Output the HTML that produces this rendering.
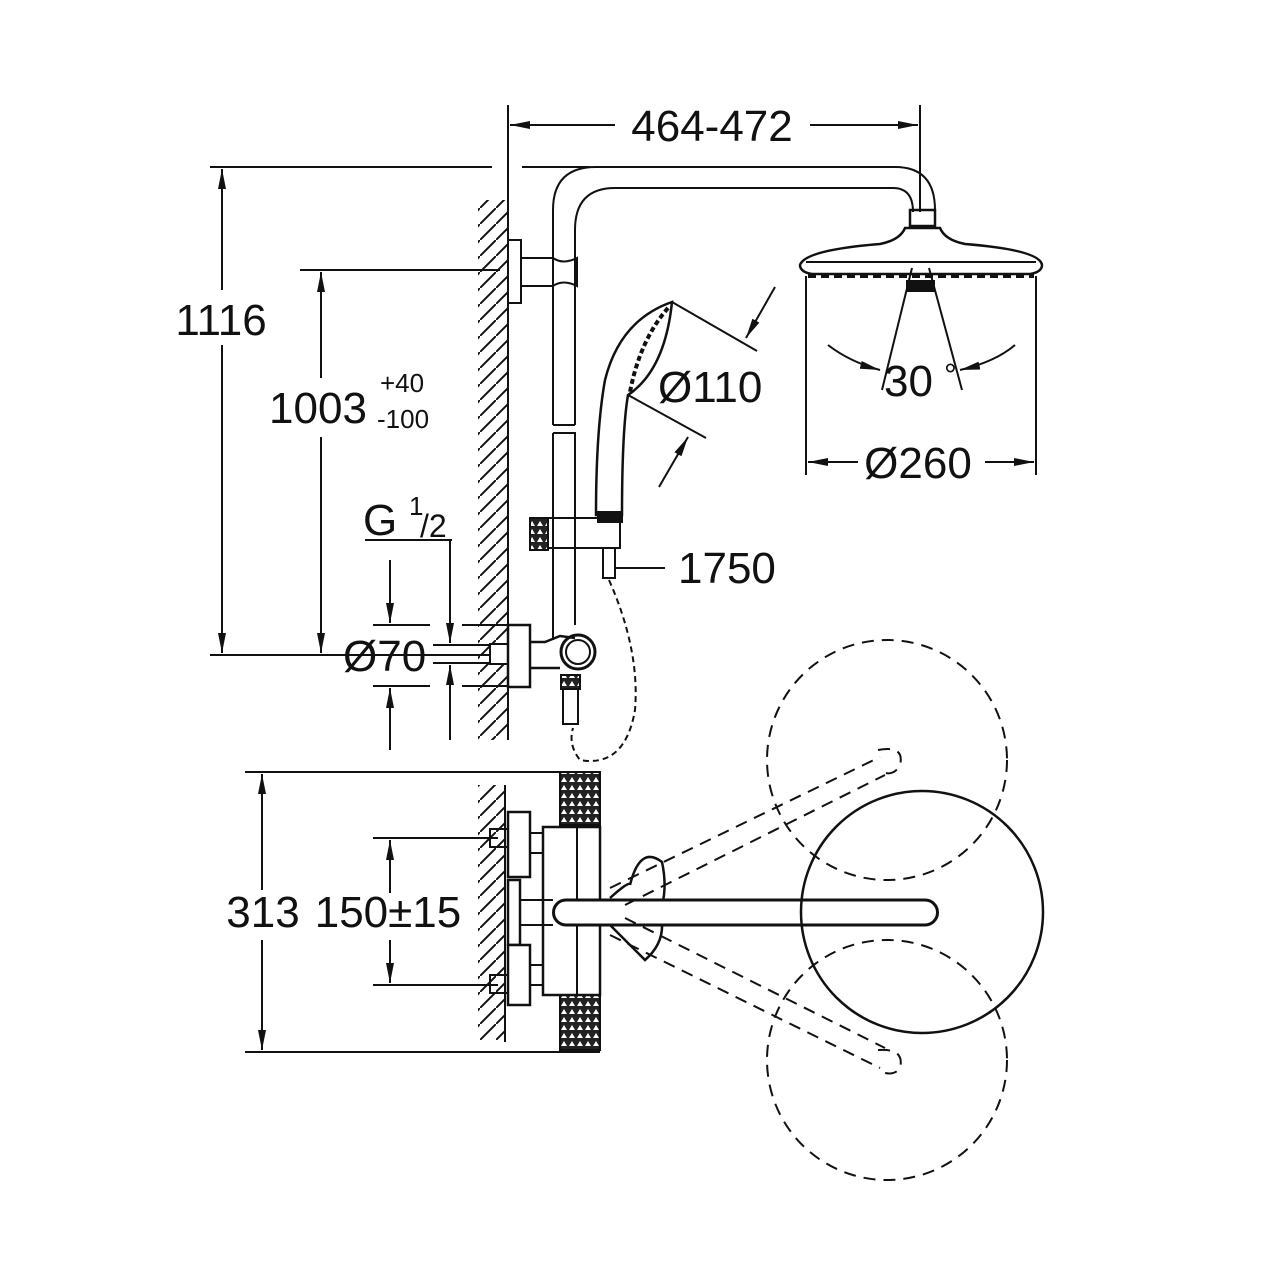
<!DOCTYPE html>
<html><head><meta charset="utf-8"><style>
html,body{margin:0;padding:0;background:#fff}
svg{display:block}
text{font-family:"Liberation Sans",sans-serif;fill:#111}
</style></head><body>
<svg width="1280" height="1280" viewBox="0 0 1280 1280" xmlns="http://www.w3.org/2000/svg">
<defs>
<marker id="a" viewBox="0 0 20 8" refX="20" refY="4" markerWidth="20" markerHeight="8" markerUnits="userSpaceOnUse" orient="auto"><path d="M0,0 L20,4 L0,8 z" fill="#111"/></marker>
<pattern id="h" width="16" height="16" patternUnits="userSpaceOnUse"><path d="M0,16 L16,0" stroke="#111" stroke-width="2"/></pattern>
<pattern id="dots" width="8" height="8" patternUnits="userSpaceOnUse"><rect width="8" height="8" fill="#222"/><path d="M1,6 L4,1 L7,6z" fill="#fff"/></pattern>
</defs>
<g stroke="#111" stroke-width="2" fill="none">
<!-- top dimension -->
<line x1="508" y1="105" x2="508" y2="740"/>
<line x1="920" y1="105" x2="920" y2="212"/>
<line x1="615" y1="125" x2="510" y2="125" marker-end="url(#a)"/>
<line x1="810" y1="125" x2="918" y2="125" marker-end="url(#a)"/>
<!-- 1116 / 1003 -->
<line x1="210" y1="167" x2="492" y2="167"/>
<line x1="522" y1="167" x2="590" y2="167"/>
<line x1="210" y1="655" x2="490" y2="655"/>
<line x1="300" y1="270" x2="500" y2="270"/>
<line x1="222" y1="290" x2="222" y2="169" marker-end="url(#a)"/>
<line x1="222" y1="345" x2="222" y2="653" marker-end="url(#a)"/>
<line x1="321" y1="378" x2="321" y2="272" marker-end="url(#a)"/>
<line x1="321" y1="437" x2="321" y2="653" marker-end="url(#a)"/>
<!-- wall upper -->
<rect x="478" y="200" width="30" height="540" fill="url(#h)" stroke="none"/>
<!-- pipe -->
<path d="M553,425 L553,210 Q553,167 596,167 L895,167 Q935,167 935,210"/>
<path d="M575,425 L575,230 Q575,188 615,188 L893,188 Q913,188 913,212"/>
<rect x="508" y="240" width="13" height="63" fill="#fff"/>
<path d="M521,258 L553,258 Q563,265 577,258 L577,286 Q563,279 553,286 L521,286"/>
<line x1="553" y1="425" x2="575" y2="425"/>
<path d="M553,433 L575,433 L575,625 M553,433 L553,640"/>
<!-- head shower -->
<rect x="910" y="210" width="25" height="16" stroke-width="2.5"/>
<path d="M800,265 Q805,250 880,244 Q900,240 905,228 L940,228 Q945,240 965,244 Q1040,250 1042,265 Q1042,272 1030,274 L812,274 Q800,272 800,265z" stroke-width="2.5"/>
<line x1="806" y1="262" x2="1036" y2="262"/>
<path d="M808,276 L1034,276" stroke-width="4" stroke-dasharray="8 5"/>
<rect x="907" y="281" width="27" height="10" fill="#111"/>
<line x1="806" y1="276" x2="806" y2="475"/>
<line x1="1036" y1="276" x2="1036" y2="475"/>
<line x1="912" y1="268" x2="882" y2="390"/>
<line x1="929" y1="268" x2="962" y2="390"/>
<path d="M828,345 Q850,362 880,370" marker-end="url(#a)"/>
<path d="M1015,345 Q995,362 960,370" marker-end="url(#a)"/>
<line x1="858" y1="462" x2="808" y2="462" marker-end="url(#a)"/>
<line x1="985" y1="462" x2="1034" y2="462" marker-end="url(#a)"/>
<!-- hand shower -->
<path d="M672,302 Q620,320 605,380 Q596,430 596,515 L622,515 Q622,430 628,395 Q665,370 672,302z" stroke-width="2.5"/>
<path d="M668,308 Q640,340 630,392" stroke-width="4" stroke-dasharray="5 3"/>
<line x1="672" y1="302" x2="757" y2="351"/>
<line x1="628" y1="395" x2="706" y2="438"/>
<line x1="775" y1="287" x2="746" y2="338" marker-end="url(#a)"/>
<line x1="659" y1="487" x2="688" y2="437" marker-end="url(#a)"/>
<!-- holder -->
<rect x="530" y="518" width="18" height="32" fill="url(#dots)"/>
<path d="M548,518 L620,518 L620,548 L548,548z"/>
<rect x="598" y="512" width="24" height="10" fill="#111"/>
<rect x="603" y="548" width="12" height="30"/>
<line x1="615" y1="568" x2="665" y2="568"/>
<path d="M609,580 Q640,650 635,710 Q625,768 580,760 Q568,745 573,728" stroke-dasharray="6 4"/>
<!-- G1/2 & Ø70 -->
<line x1="365" y1="540" x2="452" y2="540"/>
<line x1="450" y1="540" x2="450" y2="643" marker-end="url(#a)"/>
<line x1="450" y1="740" x2="450" y2="665" marker-end="url(#a)"/>
<line x1="390" y1="560" x2="390" y2="623" marker-end="url(#a)"/>
<line x1="390" y1="750" x2="390" y2="688" marker-end="url(#a)"/>
<line x1="373" y1="625" x2="430" y2="625"/><line x1="462" y1="625" x2="508" y2="625"/>
<line x1="373" y1="686" x2="430" y2="686"/><line x1="462" y1="686" x2="508" y2="686"/>
<line x1="433" y1="645" x2="495" y2="645"/><line x1="433" y1="663" x2="495" y2="663"/>
<rect x="490" y="644" width="18" height="20" fill="#fff"/>
<rect x="508" y="625" width="22" height="62" fill="#fff" stroke-width="2.5"/>
<path d="M530,642 L545,642 L560,636 L575,638 M530,668 L545,668 L560,668" stroke-width="2.5"/>
<circle cx="578" cy="652" r="17" stroke-width="3"/>
<circle cx="578" cy="652" r="12"/>
<rect x="561" y="675" width="19" height="14" fill="url(#dots)"/>
<rect x="563" y="689" width="15" height="35"/>
<!-- bottom view -->
<line x1="245" y1="772" x2="600" y2="772"/>
<line x1="245" y1="1052" x2="600" y2="1052"/>
<line x1="262" y1="890" x2="262" y2="774" marker-end="url(#a)"/>
<line x1="262" y1="940" x2="262" y2="1050" marker-end="url(#a)"/>
<line x1="373" y1="838" x2="498" y2="838"/>
<line x1="373" y1="985" x2="498" y2="985"/>
<line x1="390" y1="893" x2="390" y2="840" marker-end="url(#a)"/>
<line x1="390" y1="940" x2="390" y2="983" marker-end="url(#a)"/>
<rect x="478" y="785" width="27" height="255" fill="url(#h)" stroke="none"/>
<line x1="505" y1="785" x2="505" y2="1042"/>
<rect x="560" y="772" width="40" height="53" fill="url(#dots)"/>
<rect x="560" y="995" width="40" height="55" fill="url(#dots)"/>
<rect x="543" y="827" width="57" height="168" fill="#fff" stroke-width="2.5"/>
<line x1="577" y1="827" x2="577" y2="995"/>
<rect x="508" y="812" width="22" height="65" fill="#fff" stroke-width="2.5"/>
<rect x="508" y="880" width="12" height="65" fill="#fff" stroke-width="2.5"/>
<rect x="508" y="945" width="22" height="60" fill="#fff" stroke-width="2.5"/>
<rect x="490" y="829" width="18" height="18"/>
<rect x="490" y="975" width="18" height="18"/>
<rect x="530" y="833" width="13" height="20"/>
<rect x="530" y="965" width="13" height="20"/>
<path d="M630,885 Q640,845 662,862 Q668,890 660,912 Q668,940 645,960 Q630,945 610,925 L600,925 M610,898 Q630,880 630,885" stroke-width="2.5"/>
<path d="M566,900 L925,900 A12.5,12.5 0 0 1 925,925 L566,925 A12.5,12.5 0 0 1 566,900z" fill="#fff" stroke-width="3"/>
<line x1="520" y1="900" x2="553" y2="900"/><line x1="520" y1="925" x2="553" y2="925"/>
<circle cx="922" cy="912" r="121" stroke-width="2.5"/>
<g stroke-dasharray="12 8">
<circle cx="887" cy="760" r="120"/>
<circle cx="887" cy="1060" r="120"/>
<line x1="610" y1="888" x2="880" y2="757"/>
<line x1="625" y1="905" x2="885" y2="775"/>
<line x1="610" y1="935" x2="880" y2="1068"/>
<line x1="625" y1="918" x2="885" y2="1048"/>
<path d="M878,750 Q905,745 900,765 Q895,775 885,773"/>
<path d="M878,1050 Q905,1048 900,1068 Q895,1075 885,1073"/>
</g>
</g>
<g font-size="44">
<text x="712" y="141" text-anchor="middle">464-472</text>
<text x="221" y="335" text-anchor="middle">1116</text>
<text x="318" y="423" text-anchor="middle">1003</text>
<text x="380" y="392" font-size="26">+40</text>
<text x="377" y="428" font-size="26">-100</text>
<text x="658" y="402">Ø110</text>
<text x="678" y="583">1750</text>
<text x="918" y="478" text-anchor="middle">Ø260</text>
<text x="884" y="396">30</text>
<text x="944" y="386" font-size="32">°</text>
<text x="363" y="535">G</text>
<text x="409" y="515" font-size="26">1</text>
<text x="420" y="537" font-size="32">/2</text>
<text x="343" y="671">Ø70</text>
<text x="263" y="927" text-anchor="middle">313</text>
<text x="388" y="927" text-anchor="middle">150±15</text>
</g>
</svg>
</body></html>
